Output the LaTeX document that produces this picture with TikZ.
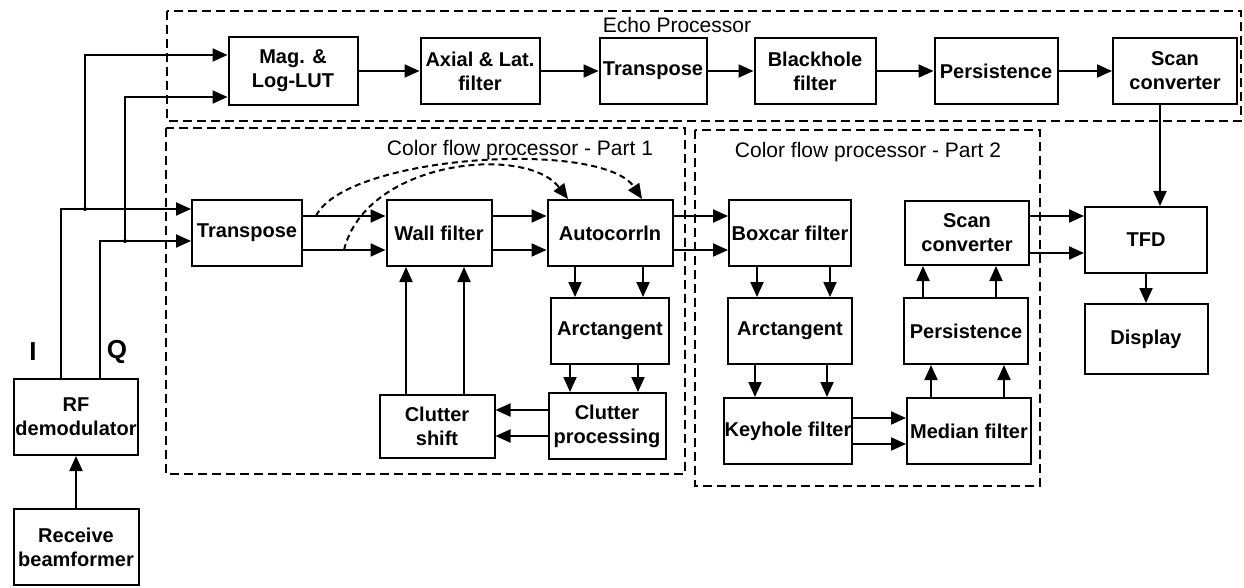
\documentclass[tikz,border=0pt]{standalone}
\usepackage{fontspec}
\setmainfont{Liberation Sans}
\usepackage{tikz}
\usetikzlibrary{arrows.meta, positioning, calc}
\tikzset{
  block/.style={rectangle, draw, line width=2pt, align=center,
    minimum width=122pt, minimum height=66pt, inner sep=1pt,
    font=\fontsize{20}{24}\selectfont\bfseries},
  group/.style={draw, line width=2pt, dash pattern=on 9pt off 5pt},
  grouplabel/.style={font=\fontsize{21}{24}\selectfont},
  arrow/.style={-{Triangle[length=15pt, width=13pt]}, line width=2pt},
  dasharrow/.style={-{Triangle[length=15pt, width=13pt]}, line width=2pt,
    dash pattern=on 6pt off 4pt},
  line/.style={line width=2pt}
}

\begin{document}
\begin{tikzpicture}[x=1pt, y=-1pt]
  \useasboundingbox (0,0) rectangle (1244,588);

  % Processor groups
  \draw[group] (167,11) rectangle (1241,121);
  \draw[group] (166,128) rectangle (685,474);
  \draw[group] (695,130) rectangle (1040,486);
  \node[grouplabel] (echolbl) at (677,25) {Echo Processor};
  \node[grouplabel] (cf1lbl) at (520,150) {Color flow processor - Part 1};
  \node[grouplabel] (cf2lbl) at (868,152) {Color flow processor - Part 2};

  % Front end
  \node[block, minimum width=121pt, minimum height=76pt] (rf) at (76,417) {RF\\demodulator};
  \node[block, minimum width=125pt, minimum height=76pt] (recv) at (76,547) {Receive\\beamformer};
  \draw[arrow] (recv) -- (rf);
  \node[font=\fontsize{26}{28}\selectfont\bfseries] (ilbl) at (33,352) {I};
  \node[font=\fontsize{26}{28}\selectfont\bfseries] (qlbl) at (117,352) {Q};

  % Echo processor
  \node[block, minimum width=129pt, minimum height=68pt] (mag) at (293,71) {Mag. \&\\Log-LUT};
  \node[block, minimum width=119pt] (axial) at (480,71) {Axial \& Lat.\\filter};
  \node[block, minimum width=107pt] (tpb) at (653,71) {Transpose};
  \node[block, minimum width=121pt] (black) at (815,71) {Blackhole\\filter};
  \node[block, minimum width=123pt] (persa) at (996,71) {Persistence};
  \node[block, minimum width=124pt] (scana) at (1175,71) {Scan\\converter};
  \draw[arrow] (mag) -- (axial);
  \draw[arrow] (axial) -- (tpb);
  \draw[arrow] (tpb) -- (black);
  \draw[arrow] (black) -- (persa);
  \draw[arrow] (persa) -- (scana);

  % Color flow processor - part 1
  \node[block, minimum width=110pt] (tpa) at (247,233) {Transpose};
  \node[block, minimum width=105pt] (wall) at (439,233) {Wall filter};
  \node[block, minimum width=125pt] (auto) at (610,233) {Autocorrln};
  \node[block, minimum width=118pt] (atana) at (610,331) {Arctangent};
  \node[block, minimum width=117pt] (cproc) at (607,426) {Clutter\\processing};
  \node[block, minimum width=115pt, minimum height=63pt] (cshift) at (437,426) {Clutter\\shift};

  % I and Q inputs
  \draw[arrow] ([xshift=-15pt]rf.north) |- ([yshift=24pt]tpa.west);
  \draw[arrow] ([xshift=24pt]rf.north) |- ([yshift=-8pt]tpa.west);
  \coordinate (itap) at (85,209);
  \coordinate (qtap) at (125,241);
  \draw[arrow] (itap) |- ([yshift=16pt]mag.west);
  \draw[arrow] (qtap) |- ([yshift=-26pt]mag.west);
  \fill (itap) circle (2pt);
  \fill (qtap) circle (2pt);

  \draw[arrow] ([yshift=17pt]tpa.east) -- ([yshift=17pt]wall.west);
  \draw[arrow] ([yshift=-17pt]tpa.east) -- ([yshift=-17pt]wall.west);
  \draw[arrow] ([yshift=17pt]wall.east) -- ([yshift=17pt]auto.west);
  \draw[arrow] ([yshift=-17pt]wall.east) -- ([yshift=-17pt]auto.west);
  \draw[dasharrow] ([xshift=13pt, yshift=17pt]tpa.east)
    .. controls +(30,-61) and +(-40,-60) .. ([xshift=32pt]auto.north);
  \draw[dasharrow] ([xshift=41pt, yshift=-17pt]tpa.east)
    .. controls +(22,-90) and +(-42,-55) .. ([xshift=-42pt]auto.north);
  \draw[arrow] ([xshift=-35pt]auto.south) -- ([xshift=-35pt]auto.south |- atana.north);
  \draw[arrow] ([xshift=33pt]auto.south) -- ([xshift=33pt]auto.south |- atana.north);
  \draw[arrow] ([xshift=-40pt]atana.south) -- ([xshift=-40pt]atana.south |- cproc.north);
  \draw[arrow] ([xshift=28pt]atana.south) -- ([xshift=28pt]atana.south |- cproc.north);
  \draw[arrow] ([yshift=16pt]cproc.west) -- ([yshift=16pt]cproc.west -| cshift.east);
  \draw[arrow] ([yshift=-10pt]cproc.west) -- ([yshift=-10pt]cproc.west -| cshift.east);
  \draw[arrow] ([xshift=-31pt]cshift.north) -- ([xshift=-31pt]cshift.north |- wall.south);
  \draw[arrow] ([xshift=27pt]cshift.north) -- ([xshift=27pt]cshift.north |- wall.south);

  % Color flow processor - part 2
  \node[block] (boxcar) at (790,233) {Boxcar filter};
  \node[block, minimum width=124pt] (atanb) at (790,331) {Arctangent};
  \node[block, minimum width=124pt] (keyhole) at (788,431) {Keyhole filter};
  \node[block, minimum width=124pt] (median) at (969,431) {Median filter};
  \node[block, minimum width=124pt] (persb) at (966,331) {Persistence};
  \node[block, minimum width=124pt, minimum height=64pt] (scanb) at (967,233) {Scan\\converter};
  \draw[arrow] ([yshift=17pt]auto.east) -- ([yshift=17pt]boxcar.west);
  \draw[arrow] ([yshift=-17pt]auto.east) -- ([yshift=-17pt]boxcar.west);
  \draw[arrow] ([xshift=-33pt]boxcar.south) -- ([xshift=-33pt]boxcar.south |- atanb.north);
  \draw[arrow] ([xshift=40pt]boxcar.south) -- ([xshift=40pt]boxcar.south |- atanb.north);
  \draw[arrow] ([xshift=-35pt]atanb.south) -- ([xshift=-35pt]atanb.south |- keyhole.north);
  \draw[arrow] ([xshift=37pt]atanb.south) -- ([xshift=37pt]atanb.south |- keyhole.north);
  \draw[arrow] ([yshift=13pt]keyhole.east) -- ([yshift=13pt]median.west);
  \draw[arrow] ([yshift=-13pt]keyhole.east) -- ([yshift=-13pt]median.west);
  \draw[arrow] ([xshift=-38pt]median.north) -- ([xshift=-38pt]median.north |- persb.south);
  \draw[arrow] ([xshift=35pt]median.north) -- ([xshift=35pt]median.north |- persb.south);
  \draw[arrow] ([xshift=-43pt]persb.north) -- ([xshift=-43pt]persb.north |- scanb.south);
  \draw[arrow] ([xshift=30pt]persb.north) -- ([xshift=30pt]persb.north |- scanb.south);

  % Output
  \node[block] (tfd) at (1146,240) {TFD};
  \node[block, minimum width=123pt, minimum height=70pt] (disp) at (1146,339) {Display};
  \draw[arrow] ([yshift=17pt]scanb.east) -- ([yshift=17pt]scanb.east -| tfd.west);
  \draw[arrow] ([yshift=-20pt]scanb.east) -- ([yshift=-20pt]scanb.east -| tfd.west);
  \draw[arrow] ([xshift=-15pt]scana.south) -- ([xshift=-15pt]scana.south |- tfd.north);
  \draw[arrow] (tfd) -- (disp);
\end{tikzpicture}
\end{document}
